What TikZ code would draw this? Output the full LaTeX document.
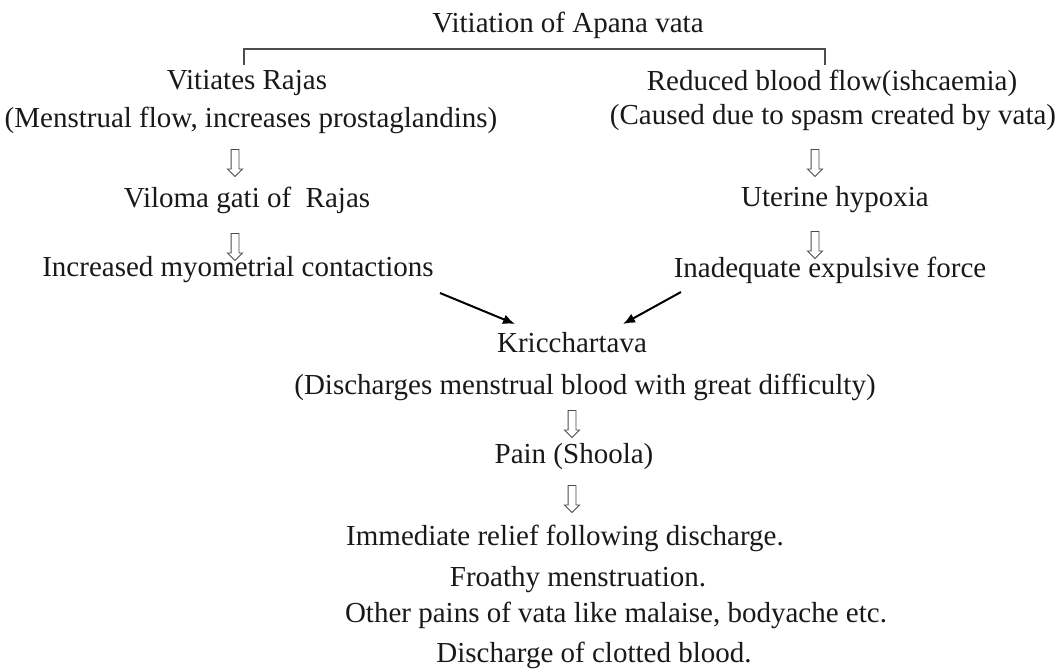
\documentclass[tikz,border=0pt]{standalone}
\usepackage{fontspec}
\setmainfont{Liberation Serif}
\usetikzlibrary{shapes.arrows,arrows.meta,calc}
\tikzset{
  lbl/.style={font=\fontsize{29}{31}\selectfont, inner sep=0pt, text=black!90},
  harrow/.style={single arrow, draw=black!70, line width=0.9pt, shape border rotate=270,
     minimum height=27pt, single arrow head extend=3.5pt, inner sep=0pt,
     text width=7pt, text height=3.5pt, text depth=3.5pt},
  bracket/.style={draw=black!70, line width=1.6pt},
  sarrow/.style={draw=black, line width=2pt, -{Latex[length=12pt,width=10pt]}}
}
\begin{document}
\begin{tikzpicture}[x=1pt,y=-1pt]
\useasboundingbox[fill=white] (0,0) rectangle (1064,671);
% nodes
\node[lbl] (title) at (568,25) {Vitiation of Apana vata};
\node[lbl] (vr) at (247,83) {Vitiates Rajas};
\node[lbl] (mf) at (251,120) {(Menstrual flow, increases prostaglandins)};
\node[lbl] (vg) at (247,200) {Viloma gati of\ \ Rajas};
\node[lbl] (imc) at (238,270) {Increased myometrial contactions};
\node[lbl] (rbf) at (832,83) {Reduced blood flow(ishcaemia)};
\node[lbl] (cs) at (833,118) {(Caused due to spasm created by vata)};
\node[lbl] (uh) at (835,200) {Uterine hypoxia};
\node[lbl] (ief) at (830,270) {Inadequate expulsive force};
\node[lbl] (kr) at (572,343) {Kricchartava};
\node[lbl] (dm) at (585,387) {(Discharges menstrual blood with great difficulty)};
\node[lbl] (pain) at (574,457) {Pain (Shoola)};
\node[lbl] (l1) at (565,538) {Immediate relief following discharge.};
\node[lbl] (l2) at (578,580) {Froathy menstruation.};
\node[lbl] (l3) at (616,615) {Other pains of vata like malaise, bodyache etc.};
\node[lbl] (l4) at (594,655) {Discharge of clotted blood.};
% hollow arrows
\node[harrow] (h1) at (235,161) {};
\node[harrow] (h2) at (235,245) {};
\node[harrow] (h3) at (815,161) {};
\node[harrow] (h4) at (815,243) {};
\node[harrow] (h5) at (572,422) {};
\node[harrow] (h6) at (572,497) {};
% bracket
\coordinate (bl) at (244,65);
\coordinate (br) at (825,65);
\coordinate (bt) at (568,49);
\draw[bracket] (bl) |- (bt) -| (br);
% converging arrows
\coordinate (s1) at (440,293);
\coordinate (e1) at (515,324);
\coordinate (s2) at (681,292);
\coordinate (e2) at (623,324);
\draw[sarrow] (s1) -- (e1);
\draw[sarrow] (s2) -- (e2);
\end{tikzpicture}
\end{document}
